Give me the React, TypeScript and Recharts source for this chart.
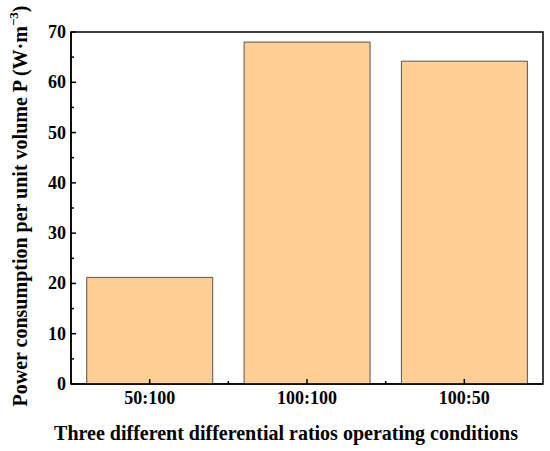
import React from "react";
import {
  BarChart,
  Bar,
  XAxis,
  YAxis,
} from "recharts";

const categories = ["50:100", "100:100", "100:50"];
const powerValues = [21.2, 68.0, 64.2];
// major ticks every 10, minor every 5
const yTicks = [0, 5, 10, 15, 20, 25, 30, 35, 40, 45, 50, 55, 60, 65, 70];
const Y_MAX = 70;

const data = categories.map((c, i) => ({ cond: c, power: powerValues[i] }));

const FONT = "'Liberation Serif', 'Times New Roman', serif";
const MARGIN = { top: 32, right: 7, left: 0, bottom: 0 };
const Y_AXIS_W = 71;
const X_AXIS_H = 67;
const CHART_W = 550;
const CHART_H = 451;
const PLOT_X = MARGIN.left + Y_AXIS_W;
const PLOT_Y = MARGIN.top;
const PLOT_W = CHART_W - PLOT_X - MARGIN.right;
const PLOT_H = CHART_H - PLOT_Y - X_AXIS_H - MARGIN.bottom;
const BAND = PLOT_W / categories.length;

function XTick(props: any) {
  const { x, y, payload, index } = props;
  return (
    <g>
      <line x1={x} y1={y} x2={x} y2={y - 5} stroke="#000" strokeWidth={1.5} />
      {index < categories.length - 1 && (
        <line x1={x + BAND / 2} y1={y} x2={x + BAND / 2} y2={y - 3} stroke="#000" strokeWidth={1.5} />
      )}
      <text x={x} y={y + 20} textAnchor="middle" fontFamily={FONT} fontSize={18} fontWeight={700} fill="#000">
        {payload.value}
      </text>
    </g>
  );
}

function YTick(props: any) {
  const { x, y, payload } = props;
  const major = payload.value % 10 === 0;
  return (
    <g>
      <line x1={x} y1={y} x2={x + (major ? 5 : 3)} y2={y} stroke="#000" strokeWidth={1.5} />
      {major && (
        <text x={x - 5} y={y} dy={6} textAnchor="end" fontFamily={FONT} fontSize={18} fontWeight={700} fill="#000">
          {payload.value}
        </text>
      )}
    </g>
  );
}

export default function App() {
  return (
    <div style={{ position: "absolute", left: 0, top: 0, background: "#fff" }}>
      <BarChart
        width={CHART_W}
        height={CHART_H}
        data={data}
        margin={MARGIN}
        barCategoryGap="10%"
      >
        <XAxis
          dataKey="cond"
          height={X_AXIS_H}
          tickSize={0}
          tickMargin={0}
          tickLine={false}
          axisLine={{ stroke: "#000", strokeWidth: 1.5 }}
          tick={<XTick />}
          interval={0}
        />
        <YAxis
          domain={[0, Y_MAX]}
          ticks={yTicks}
          interval={0}
          width={Y_AXIS_W}
          tickSize={0}
          tickMargin={0}
          tickLine={false}
          axisLine={{ stroke: "#000", strokeWidth: 1.5 }}
          tick={<YTick />}
        />

        <Bar dataKey="power" fill="#FECE93" stroke="#555" strokeWidth={1} isAnimationActive={false} />

        {/* plot box frame */}
        <rect x={PLOT_X} y={PLOT_Y} width={PLOT_W} height={PLOT_H} fill="none" stroke="#000" strokeWidth={1.5} />

        <text
          x={286}
          y={440}
          textAnchor="middle"
          fontFamily={FONT}
          fontSize={20}
          fontWeight={700}
          fill="#000"
        >
          Three different differential ratios operating conditions
        </text>
        <text
          transform="translate(27,206) rotate(-90)"
          textAnchor="middle"
          fontFamily={FONT}
          fontSize={20}
          fontWeight={700}
          fill="#000"
        >
          Power consumption per unit volume P (W·m
          <tspan fontSize={13} dy={-9}>−3</tspan>
          <tspan dy={9}>)</tspan>
        </text>
      </BarChart>
    </div>
  );
}
